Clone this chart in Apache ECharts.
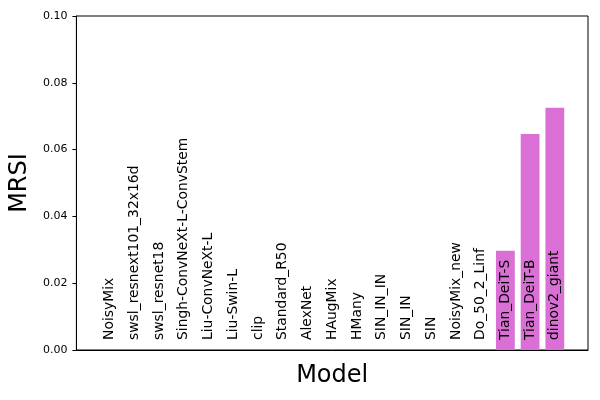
<!DOCTYPE html>
<html><head><meta charset="utf-8">
<script src="https://cdn.jsdelivr.net/npm/echarts@6/dist/echarts.min.js"></script>
<style>html,body{margin:0;padding:0;background:#fff}#c{width:600px;height:400px}</style>
</head><body><div id="c"></div>
<script>
var categories = ["NoisyMix","swsl_resnext101_32x16d","swsl_resnet18","Singh-ConvNeXt-L-ConvStem","Liu-ConvNeXt-L","Liu-Swin-L","clip","Standard_R50","AlexNet","HAugMix","HMany","SIN_IN_IN","SIN_IN","SIN","NoisyMix_new","Do_50_2_Linf","Tian_DeiT-S","Tian_DeiT-B","dinov2_giant"];
var values = [0,0,0,0,0,0,0,0,0,0,0,0,0,0,0,0,0.0297,0.0647,0.0725];
var yTicks = [0, 0.02, 0.04, 0.06, 0.08, 0.10];

var n = categories.length;
var pad = (n - 1 + 0.8) * 0.05;
var chart = echarts.init(document.getElementById('c'));
chart.setOption({
  animation: false,
  textStyle: {fontFamily: 'DejaVu Sans'},
  grid: {left: 76, right: 12, top: 16, bottom: 50, show: true, borderColor: '#000', borderWidth: 1},
  xAxis: {
    type: 'value', min: -0.4 - pad, max: n - 1 + 0.4 + pad,
    axisLabel: {show: false}, axisTick: {show: false}, splitLine: {show: false},
    axisLine: {show: true, onZero: false, lineStyle: {color: '#000'}},
    name: 'Model', nameLocation: 'middle', nameGap: 14,
    nameTextStyle: {fontSize: 24, color: '#000', fontFamily: 'DejaVu Sans', verticalAlign: 'top'}
  },
  yAxis: {
    type: 'value', min: yTicks[0], max: yTicks[yTicks.length - 1], interval: 0.02,
    axisLine: {show: true, onZero: false, lineStyle: {color: '#000'}},
    axisTick: {show: true, length: 4, lineStyle: {color: '#000'}},
    splitLine: {show: false},
    axisLabel: {fontSize: 11, color: '#000', margin: 9, formatter: function (v) { return v.toFixed(2); }},
    name: 'MRSI', nameLocation: 'middle', nameGap: 38,
    nameTextStyle: {fontSize: 24, color: '#000', fontFamily: 'DejaVu Sans'}
  },
  series: [{
    type: 'bar',
    barWidth: 18.8,
    itemStyle: {color: '#DA70D6'},
    data: values.map(function (v, i) { return [i, v]; }),
    label: {
      show: true, position: 'insideBottom', rotate: 90, align: 'left', verticalAlign: 'middle',
      distance: 10, fontSize: 13.9, color: '#000', fontFamily: 'DejaVu Sans',
      formatter: function (p) { return categories[p.dataIndex]; }
    }
  }]
});
</script></body></html>
